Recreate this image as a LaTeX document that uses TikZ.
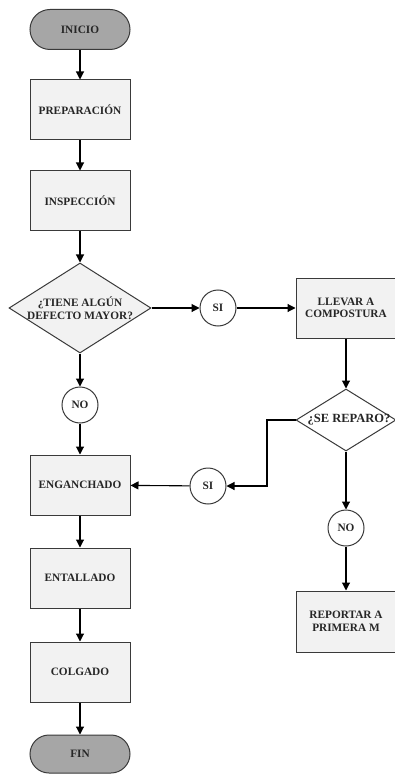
\documentclass[tikz,border=0pt]{standalone}
\usepackage{fontspec}
\setmainfont{Liberation Serif}
\usetikzlibrary{shapes.geometric,shapes.misc,arrows.meta}
\definecolor{boxfill}{HTML}{F2F2F2}
\definecolor{termfill}{HTML}{A6A6A6}
\definecolor{edge}{HTML}{3A3A3A}
\begin{document}
\begin{tikzpicture}[x=1pt,y=-1pt,
  every node/.style={font=\fontsize{11.3}{12.5}\selectfont\bfseries, text=black!85, align=center},
  proc/.style={draw=edge, line width=1pt, fill=boxfill, minimum width=100pt, minimum height=60pt, inner sep=0pt},
  term/.style={draw=edge, line width=1pt, fill=termfill, rounded rectangle, minimum width=100pt, minimum height=40pt, inner sep=0pt},
  dec/.style={draw=edge, line width=1pt, diamond, inner sep=0pt},
  conn/.style={draw=edge, line width=1pt, circle, fill=white, minimum size=36pt, inner sep=0pt},
  arr/.style={draw=black, line width=1.1pt, -{Triangle[width=8pt,length=8pt]}},
  ln/.style={draw=black, line width=1.1pt}
]
\useasboundingbox (0,0) rectangle (394,775);
\node[term] (inicio) at (80,29.5) {INICIO};
\node[proc] (prep) at (80,110) {PREPARACIÓN};
\node[proc] (insp) at (80,201) {INSPECCIÓN};
\node[dec, fill=boxfill, minimum width=142pt, minimum height=90pt] (d1) at (80,308) {};
\node at (d1) {¿TIENE ALGÚN\\DEFECTO MAYOR?};
\node[conn] (si1) at (218,308) {SI};
\node[proc] (llevar) at (346,308) {LLEVAR A\\COMPOSTURA};
\node[conn] (no1) at (80,405) {NO};
\node[dec, fill=white, minimum width=100pt, minimum height=62pt] (d2) at (346,420) {};
\node[font=\fontsize{12.5}{14}\selectfont\bfseries] at (349,420) {¿SE REPARO?};
\coordinate (kink) at (267,486);
\node[conn] (si2) at (208,486) {SI};
\node[proc] (eng) at (80,485) {ENGANCHADO};
\node[conn] (no2) at (346,528) {NO};
\node[proc, minimum height=61pt] (rep) at (346,621.5) {REPORTAR A\\PRIMERA M};
\node[proc] (ent) at (80,578) {ENTALLADO};
\node[proc] (col) at (80,672) {COLGADO};
\node[term, minimum height=38pt] (fin) at (80,754) {FIN};

\draw[arr] (inicio) -- (prep);
\draw[arr] (prep) -- (insp);
\draw[arr] (insp) -- (d1);
\draw[arr] (d1.east) -- (si1);
\draw[arr] (si1) -- (llevar);
\draw[arr] (llevar) -- (d2);
\draw[arr] (d1.south) -- (no1);
\draw[arr] (no1) -- (eng);
\draw[arr] (d2.west) -| (kink) -- (si2);
\draw[arr] (si2) -- (eng);
\draw[arr] (d2.south) -- (no2);
\draw[arr] (no2) -- (rep);
\draw[arr] (eng) -- (ent);
\draw[arr] (ent) -- (col);
\draw[arr] (col) -- (fin);
\end{tikzpicture}
\end{document}
